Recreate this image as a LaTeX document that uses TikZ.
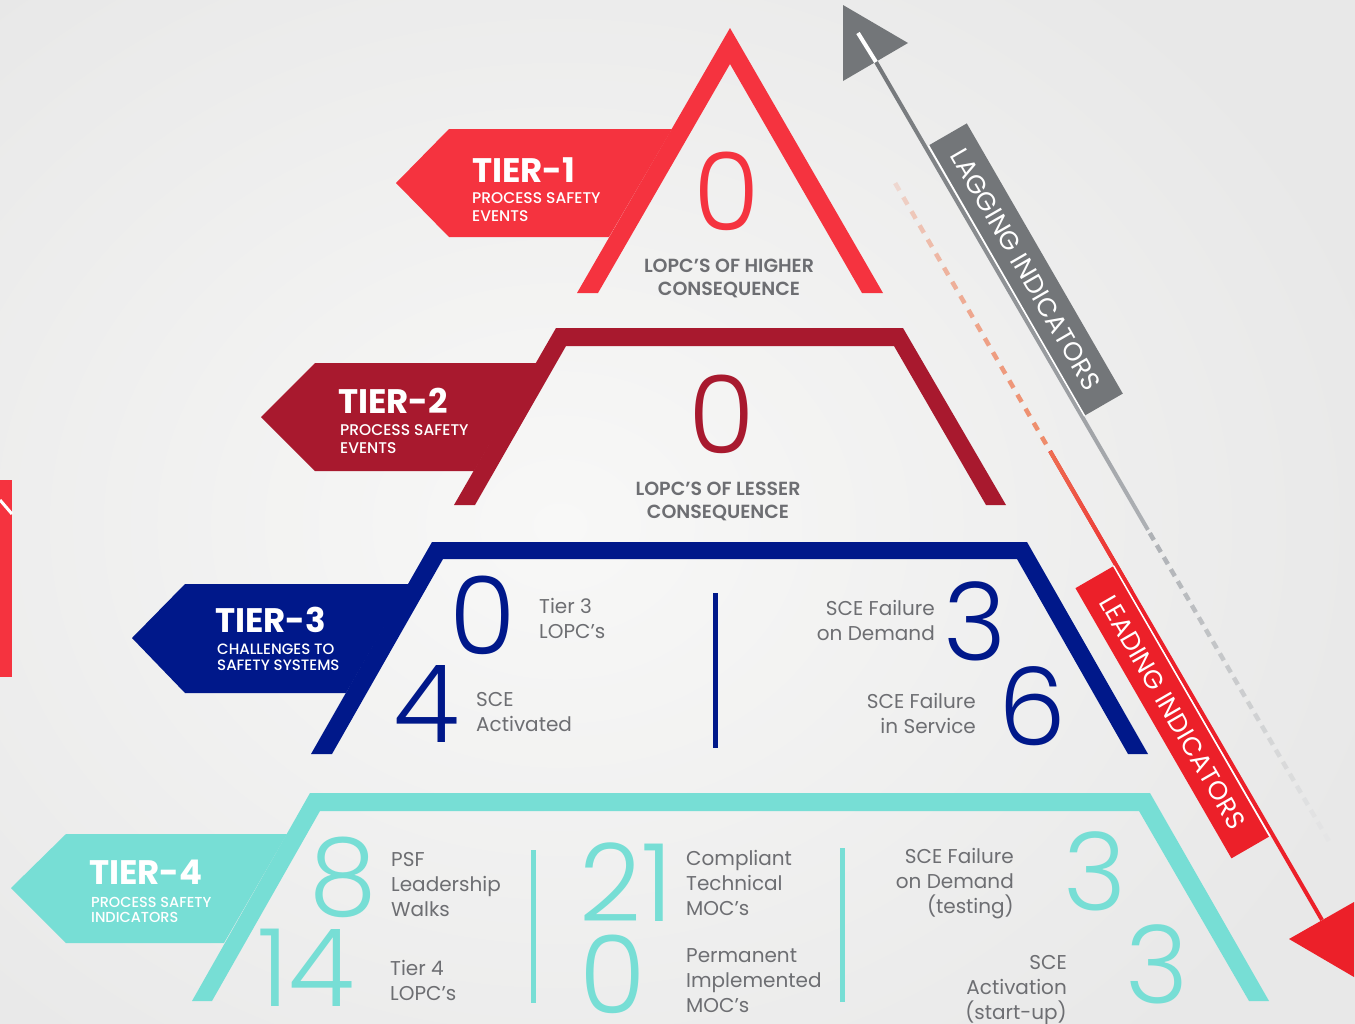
\documentclass[tikz,border=0pt]{standalone}
\usepackage{fontspec}
\setmainfont{Poppins}
\newfontfamily\poplight{Poppins Light}
\newfontfamily\popmed{Poppins Medium}
\newfontfamily\popsemi{Poppins SemiBold}
\newfontfamily\popbold{Poppins Bold}
\usetikzlibrary{calc}
\definecolor{tierone}{HTML}{F5333F}
\definecolor{tiertwo}{HTML}{A8192E}
\definecolor{tierthree}{HTML}{00188A}
\definecolor{tierfour}{HTML}{77DED5}
\definecolor{labelgray}{HTML}{6D6E72}
\definecolor{laggray}{HTML}{737679}
\definecolor{lagpale}{HTML}{AEB1B5}
\definecolor{leadred}{HTML}{EC2029}
\definecolor{leadorange}{HTML}{EE7052}
\definecolor{salmon}{HTML}{EE8A68}
\definecolor{bgin}{HTML}{F8F8F7}
\definecolor{bgout}{HTML}{E8E8E8}

\begin{document}
    \begin{tikzpicture}[x=1pt, y=-1pt,
        tiertitle/.style={font=\popbold\fontsize{34}{34}\selectfont, text=white, anchor=north west, inner sep=0},
        tiersub/.style={font=\popmed\fontsize{15.5}{18}\selectfont, text=white, anchor=north west, align=left, inner sep=0},
        bignum/.style={font=\poplight\fontsize{108}{108}\selectfont, anchor=base, inner sep=0},
        capslabel/.style={font=\popsemi\fontsize{19}{23}\selectfont, text=labelgray, anchor=north, align=center, inner sep=0},
        lbl/.style={font=\fontsize{20}{25}\selectfont, text=labelgray, anchor=north west, align=left, inner sep=0},
        lblr/.style={lbl, anchor=north east, align=right},
        band/.style={inner sep=0, rotate=-60, minimum width=312, minimum height=44, text=white, font=\fontsize{26}{26}\selectfont}]
        \useasboundingbox (0,0) rectangle (1355,1023);
        \begin{scope}
            \clip (0,0) rectangle (1355,1023);
            \shade[inner color=bgin, outer color=bgout] (-300,-180) rectangle (1420,1230);
        \end{scope}
        \fill[tierone] (0,480) rectangle (12,677);
        \draw[white, line width=3] (0,500) -- (12,514);

        \fill[tierone] (396,183) -- (449,129) -- (672,129) -- (609,237) -- (449,237) -- cycle;
        \fill[tierone] (577,293) -- (730,28) -- (883,293) -- (862,293) -- (730,64) -- (598,293) -- cycle;
        \fill[tiertwo] (261,417) -- (315,363) -- (537,363) -- (474,471) -- (315,471) -- cycle;
        \fill[tiertwo] (454,505) -- (556,328) -- (903,328) -- (1006,505) -- (986,505) -- (894,346) -- (566,346) -- (475,505) -- cycle;
        \fill[tierthree] (132,638) -- (185,584) -- (409,584) -- (346,693) -- (185,693) -- cycle;
        \fill[tierthree] (311,754) -- (432,542) -- (1027,542) -- (1148,754) -- (1128,754) -- (1017,559) -- (443,559) -- (332,754) -- cycle;
        \fill[tierfour] (11,888) -- (66,834) -- (287,834) -- (224,943) -- (66,943) -- cycle;
        \fill[tierfour] (192,1001) -- (310,793) -- (1150,793) -- (1269,1001) -- (1249,1001) -- (1139,811) -- (320,811) -- (212,1001) -- cycle;

        \node[tiertitle] (t1title) at (472,157) {TIER-1};
        \node[tiersub] (t1sub) at (472,192) {PROCESS SAFETY\\EVENTS};
        \node[bignum, text=tierone] (t1num) at (727,230) {0};
        \node[capslabel] (t1lbl) at (729,259) {LOPC’S OF HIGHER\\CONSEQUENCE};

        \node[tiertitle] (t2title) at (338,388) {TIER-2};
        \node[tiersub] (t2sub) at (340,424) {PROCESS SAFETY\\EVENTS};
        \node[bignum, text=tiertwo] (t2num) at (722,453) {0};
        \node[capslabel] (t2lbl) at (718,482) {LOPC’S OF LESSER\\CONSEQUENCE};

        \node[tiertitle] (t3title) at (215,607) {TIER-3};
        \node[tiersub, font=\popmed\fontsize{15}{15.5}\selectfont] (t3sub) at (217,644) {CHALLENGES TO\\SAFETY SYSTEMS};
        \node[bignum, text=tierthree] (t3lopc) at (483,654) {0};
        \node[lbl] (t3lopclbl) at (539,598) {Tier 3\\LOPC’s};
        \node[bignum, text=tierthree] (t3act) at (427,742) {4};
        \node[lbl] (t3actlbl) at (476,692) {SCE\\Activated};
        \node[bignum, text=tierthree] (t3dem) at (975,660) {3};
        \node[lblr] (t3demlbl) at (935,600) {SCE Failure\\on Demand};
        \node[bignum, text=tierthree] (t3serv) at (1032,745) {6};
        \node[lblr] (t3servlbl) at (976,693) {SCE Failure\\in Service};
        \draw[tierthree, line width=5] (715,593) -- (715,748);

        \node[tiertitle] (t4title) at (89,860) {TIER-4};
        \node[tiersub, font=\popmed\fontsize{14.5}{15}\selectfont] (t4sub) at (91,897) {PROCESS SAFETY\\INDICATORS};
        \node[bignum, text=tierfour] (t4walk) at (343,915) {8};
        \node[lbl] (t4walklbl) at (391,852) {PSF\\Leadership\\Walks};
        \node[bignum, text=tierfour] (t4lopc) at (306,1006) {14};
        \node[lbl] (t4lopclbl) at (390,960) {Tier 4\\LOPC’s};
        \node[bignum, text=tierfour] (t4comp) at (626,921) {21};
        \node[lbl] (t4complbl) at (686,850) {Compliant\\Technical\\MOC’s};
        \node[bignum, text=tierfour] (t4perm) at (613,1013) {0};
        \node[lbl] (t4permlbl) at (686,948) {Permanent\\Implemented\\MOC’s};
        \node[bignum, text=tierfour] (t4test) at (1095,910) {3};
        \node[lblr] (t4testlbl) at (1014,848) {SCE Failure\\on Demand\\(testing)};
        \node[bignum, text=tierfour] (t4start) at (1157,1003) {3};
        \node[lblr] (t4startlbl) at (1067,955) {SCE\\Activation\\(start-up)};
        \draw[tierfour, line width=5] (533,850) -- (533,1003);
        \draw[tierfour, line width=5] (842,848) -- (842,1002);

        \coordinate (lagtip) at (858,33);
        \coordinate (lagA) at (876,62);
        \coordinate (lagB) at (1148,530);
        \coordinate (lagend) at (1330,843);
        \coordinate (leadstart) at (887,169);
        \coordinate (leadA) at (1050,451);
        \coordinate (leadB) at (1322,920);

        \fill[laggray] (843,5) -- (908,43) -- (843,81) -- cycle;
        \draw[white, line width=4] (lagtip) -- (lagA);
        \path (lagA) -- (lagB) node[midway, sloped, inner sep=0, minimum width=541, minimum height=4, left color=laggray, right color=lagpale] (lagline) {};
        \foreach \i [evaluate=\i as \op using 1-\i/26] in {0,...,25}
            \draw[lagpale, line width=4.5, opacity=\op] ($(lagB)!{\i/26+0.01}!(lagend)$) -- ($(lagB)!{\i/26+0.032}!(lagend)$);
        \node[band, fill=laggray] (lagband) at (1025.75,269.5) {LAGGING INDICATORS};
        \draw[white, line width=1.5] (lagband.south west) -- (lagband.south east);

        \foreach \i [evaluate=\i as \op using sqrt(\i/20)] in {1,...,19}
            \draw[salmon, line width=4.5, opacity=\op] ($(leadstart)!{\i/20}!(leadA)$) -- ($(leadstart)!{\i/20+0.026}!(leadA)$);
        \draw[leadred, line width=4] (leadA) -- (leadB);
        \path (leadA) -- ($(leadA)!0.3!(leadB)$) node[midway, sloped, inner sep=0, minimum width=162, minimum height=4, left color=leadorange, right color=leadred] (leadline) {};
        \fill[leadred] (1289,939) -- (1354,902) -- (1354,977) -- cycle;
        \node[band, fill=leadred] (leadband) at (1172.5,712.25) {LEADING INDICATORS};
        \draw[white, line width=1.5] (leadband.north west) -- (leadband.north east);
    \end{tikzpicture}
\end{document}
